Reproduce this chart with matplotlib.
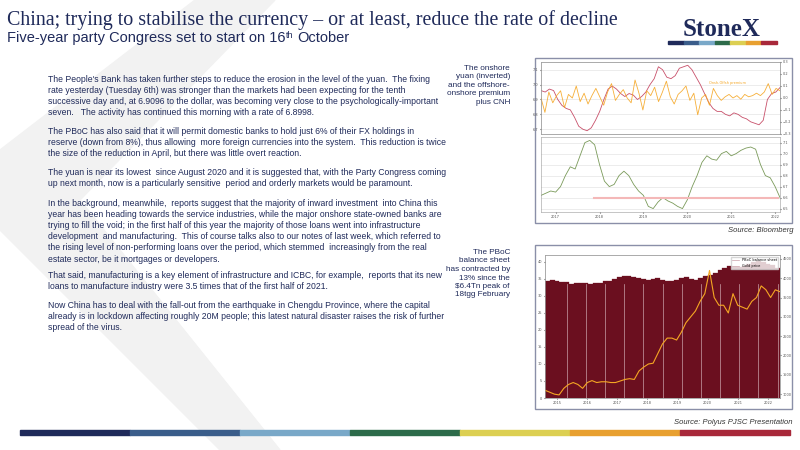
import matplotlib.pyplot as plt
from matplotlib.patches import Polygon, Rectangle
import numpy as np

yuan_inv = [6.96,6.95,6.97,6.96,6.90,6.86,6.84,6.83,6.78,6.72,6.70,6.69,6.71,6.76,6.82,6.90,6.97,6.99,6.97,6.94,6.92,6.94,6.93,6.90,6.92,6.95,7.00,7.04,7.12,7.10,7.05,7.04,7.06,7.11,7.12,7.13,7.10,7.05,7.00,6.94,6.88,6.84,6.82,6.82,6.80,6.79,6.81,6.80,6.78,6.77,6.75,6.74,6.73,6.76,6.90,6.94,6.95,6.98]
premium = [0.00,-0.12,0.05,-0.04,0.02,0.06,-0.08,0.03,0.00,0.10,-0.03,0.04,-0.05,0.02,0.08,0.01,-0.06,0.05,0.12,-0.02,0.03,0.07,0.00,-0.04,0.15,0.04,-0.10,0.06,0.02,0.09,-0.03,0.05,0.14,0.01,-0.05,0.03,0.06,0.10,-0.02,0.04,-0.14,0.00,0.03,-0.06,0.08,0.02,-0.02,0.01,0.03,0.00,0.02,-0.01,0.03,0.01,0.02,0.04,0.02,0.05,0.12,0.03,0.08,0.06]
green = [6.62,6.64,6.66,6.65,6.70,6.80,6.88,6.86,6.98,7.10,7.12,7.08,6.90,6.75,6.70,6.72,6.80,6.84,6.80,6.72,6.66,6.62,6.52,6.50,6.56,6.60,6.57,6.55,6.52,6.50,6.58,6.70,6.80,6.92,6.98,6.95,6.94,7.00,7.02,6.98,7.00,7.03,7.05,7.06,7.04,6.90,6.80,6.78,6.70,6.60]
bs = [34.5,34.6,34.5,34.2,34.0,33.6,33.9,33.8,33.7,33.5,33.8,33.9,34.3,34.5,35.0,35.4,35.8,35.9,35.6,35.2,35.0,34.8,35.0,35.2,34.6,34.3,34.5,34.8,35.2,35.5,35.0,34.8,35.3,35.8,36.2,36.8,37.5,38.2,38.8,38.6,38.4,38.9,39.3,39.8,40.2,40.0,39.5,39.0,38.2]
spx = [1100,1050,1000,980,1150,1250,1300,1250,1150,1300,1350,1300,1320,1320,1300,1300,1340,1380,1400,1380,1600,1700,1780,1800,2050,2300,2450,2450,2400,2600,2850,3000,3150,3400,3600,4200,3500,3300,3300,3100,3600,3300,3250,3200,3400,3500,3800,3700,3500,3700,3650]
years_top = ['2017','2018','2019','2020','2021','2022']
years_bot = ['2015','2016','2017','2018','2019','2020','2021','2022']
band_colors = ['#1f2a5a','#3a5d8a','#79a8c8','#2d6b4a','#dccf52','#e8a030','#a8283a']

fig = plt.figure(figsize=(8,4.5), dpi=100)
fig.patch.set_facecolor('white')
W,H = 800,450
def fx(x): return x/W
def fy(y): return 1-y/H
bg = fig.add_axes([0,0,1,1]); bg.set_xlim(0,W); bg.set_ylim(H,0); bg.axis('off')
bg.add_patch(Polygon([(195,0),(275,0),(80,200),(280,450),(220,450),(0,230),(0,150)],closed=True,color='#f2f2f2',zorder=0))
for i,c in enumerate(band_colors):
    bg.add_patch(Rectangle((20+i*110,430),110,5,color=c))
fig.text(fx(7),fy(20),'China; trying to stabilise the currency \u2013 or at least, reduce the rate of decline',fontsize=14.4,family='Liberation Serif',color='#1f2a5a',va='center')
r = fig.canvas.get_renderer()
t1 = fig.text(fx(7),fy(38),'Five-year party Congress set to start on 16',fontsize=10.5,family='Liberation Sans',color='#1f2a5a',va='center')
x_end = t1.get_window_extent(r).x1
t2 = fig.text(x_end/W+0.001,fy(35),'th',fontsize=6.5,family='Liberation Sans',color='#1f2a5a',va='center')
x_end2 = t2.get_window_extent(r).x1
fig.text(x_end2/W+0.004,fy(38),'October',fontsize=10.5,family='Liberation Sans',color='#1f2a5a',va='center')
fig.text(fx(722),fy(29),'StoneX',fontsize=18,family='Liberation Serif',weight='bold',color='#1f2a5a',ha='center',va='center')
for i,c in enumerate(band_colors):
    bg.add_patch(Rectangle((668+i*15.5,41),15.5,3,color=c))

paras = [
 (75,"The People's Bank has taken further steps to reduce the erosion in the level of the yuan.  The fixing\nrate yesterday (Tuesday 6th) was stronger than the markets had been expecting for the tenth\nsuccessive day and, at 6.9096 to the dollar, was becoming very close to the psychologically-important\nseven.   The activity has continued this morning with a rate of 6.8998."),
 (127,"The PBoC has also said that it will permit domestic banks to hold just 6% of their FX holdings in\nreserve (down from 8%), thus allowing  more foreign currencies into the system.  This reduction is twice\nthe size of the reduction in April, but there was little overt reaction."),
 (168,"The yuan is near its lowest  since August 2020 and it is suggested that, with the Party Congress coming\nup next month, now is a particularly sensitive  period and orderly markets would be paramount."),
 (199,"In the background, meanwhile,  reports suggest that the majority of inward investment  into China this\nyear has been heading towards the service industries, while the major onshore state-owned banks are\ntrying to fill the void; in the first half of this year the majority of those loans went into infrastructure\ndevelopment  and manufacturing.  This of course talks also to our notes of last week, which referred to\nthe rising level of non-performing loans over the period, which stemmed  increasingly from the real\nestate sector, be it mortgages or developers."),
 (271,"That said, manufacturing is a key element of infrastructure and ICBC, for example,  reports that its new\nloans to manufacture industry were 3.5 times that of the first half of 2021."),
 (301,"Now China has to deal with the fall-out from the earthquake in Chengdu Province, where the capital\nalready is in lockdown affecting roughly 20M people; this latest natural disaster raises the risk of further\nspread of the virus."),
]
for y,t in paras:
    fig.text(fx(48),fy(y),t,fontsize=6.2,family='Liberation Sans',color='#1f2a5a',va='top',linespacing=1.3)
fig.text(fx(510),fy(65),'The onshore\nyuan (inverted)\nand the offshore-\nonshore premium\nplus CNH',fontsize=5.9,family='Liberation Sans',color='#1f2a5a',va='top',ha='right',linespacing=1.3)
fig.text(fx(510),fy(249),'The PBoC\nbalance sheet\nhas contracted by\n13% since the\n$6.4Tn peak of\n18tgg February',fontsize=5.9,family='Liberation Sans',color='#1f2a5a',va='top',ha='right',linespacing=1.3)
fig.text(fx(793),fy(231),'Source: Bloomberg',fontsize=5.5,style='italic',family='Liberation Sans',ha='right',va='center',color='#333')
fig.text(fx(793),fy(422),'Source: Polyus PJSC Presentation',fontsize=5.5,style='italic',family='Liberation Sans',ha='right',va='center',color='#333')

bg.add_patch(Rectangle((535,58),257,165,fill=False,ec='#8a8fa8',lw=1))
bg.add_patch(Rectangle((535,245),257,164,fill=False,ec='#8a8fa8',lw=1))

def style(ax, grid=True):
    ax.set_facecolor('white')
    ax.tick_params(labelsize=2.5,length=1,colors='#555',pad=1)
    if grid: ax.grid(axis='y',color='#e4e4e4',lw=0.5)
    ax.set_axisbelow(True)
    for s in ax.spines.values(): s.set_color('#999'); s.set_linewidth(0.4)
def style2(ax):
    ax.tick_params(labelsize=2.5,length=1,colors='#555',pad=1)
    for s in ax.spines.values(): s.set_color('#999'); s.set_linewidth(0.4)

a1 = fig.add_axes([fx(541),fy(134),(780-541)/W,(134-62)/H]); style(a1)
x1 = np.arange(len(yuan_inv))
a1.plot(x1,yuan_inv,color='#c8506a',lw=0.6)
a1.set_xlim(0,len(yuan_inv)-1); a1.set_xticks([])
a1b = a1.twinx(); style2(a1b)
a1b.plot(np.linspace(0,len(yuan_inv)-1,len(premium)),premium,color='#f5a623',lw=0.6,alpha=0.9)
a1b.set_ylim(-0.3,0.3)
a1b.text(40,0.12,'Onsh-Offsh premium',fontsize=2.5,color='#f5a623')
a2 = fig.add_axes([fx(541),fy(212),(780-541)/W,(212-137)/H]); style(a2)
x2 = np.arange(len(green))
a2.plot(x2,green,color='#7a9a5a',lw=0.6)
a2.axhline(6.60,xmin=0.22,xmax=0.99,color='#f4b8b8',lw=1.5)
a2.set_xlim(0,len(green)-1)
a2.set_xticks(np.linspace(3,len(green)-2,len(years_top))); a2.set_xticklabels(years_top)
a2.yaxis.tick_right()

a3 = fig.add_axes([fx(545),fy(398),(780-545)/W,(398-255)/H]); style(a3, grid=False)
x3 = np.arange(len(bs))
a3.bar(x3,bs,width=1.0,color='#6b0f1f',ec='#6b0f1f',lw=0.2)
for k in range(4,len(bs),4): a3.axvline(k,ymax=0.8,color='#c9a0a8',lw=0.5)
a3.set_ylim(0,42); a3.set_xlim(-0.5,len(bs)-0.5)
a3.set_xticks(np.linspace(2,len(bs)-3,len(years_bot))); a3.set_xticklabels(years_bot)
a3b = a3.twinx(); style2(a3b)
a3b.plot(np.linspace(-0.5,len(bs)-0.5,len(spx)),spx,color='#f5a623',lw=0.8)
a3b.set_ylim(900,4600)
a3.legend(['PBoC balance sheet','Gold price'],fontsize=2.5,loc='upper right',frameon=True)

fig.savefig('out.png',dpi=100,facecolor='white')
